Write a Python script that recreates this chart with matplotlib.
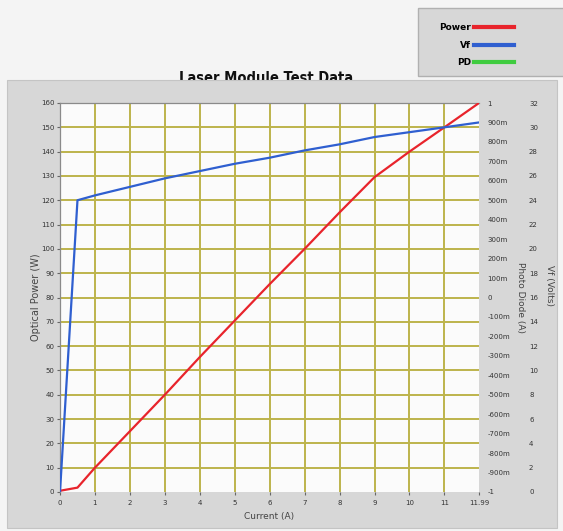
import matplotlib
matplotlib.use("Agg")
import matplotlib.pyplot as plt
from matplotlib.patches import Rectangle
from matplotlib.ticker import FuncFormatter

# values
current_a = [0, 0.5, 1, 2, 3, 4, 5, 6, 7, 8, 9, 10, 11, 11.99]
power_w = [0.5, 1.8, 10, 25, 40, 55.5, 70.5, 85.5, 100, 115, 129.5, 140, 150, 160]
vf_volts = [0, 24.0, 24.4, 25.1, 25.8, 26.4, 27.0, 27.5, 28.1, 28.6, 29.2, 29.6, 30.0, 30.4]
pd_current = []  # PD trace not visible in the reference

x_ticks = list(range(0, 12)) + [11.99]
x_labels = [str(t) for t in range(0, 12)] + ["11.99"]
power_ticks = list(range(0, 161, 10))
vf_ticks = list(range(0, 33, 2))
pd_ticks = [i / 10 for i in range(-10, 11)]

RED = "#e8242c"
BLUE = "#2f5fd0"
GREEN = "#40cc40"
GRID = "#bdb44c"
TXT = "#333333"

fig = plt.figure(figsize=(5.63, 5.31), dpi=100)
fig.patch.set_facecolor("#f4f4f4")

# gray panel behind the graph
panel = Rectangle((7 / 563, 3 / 531), 550 / 563, 448 / 531, transform=fig.transFigure,
                  facecolor="#d7d7d7", edgecolor="#c4c4c4", lw=0.8, zorder=-1)
fig.patches.append(panel)

fig.text(266 / 563, (531 - 83) / 531, "Laser Module Test Data", ha="center", va="baseline",
         fontsize=10.5, fontweight="bold", stretch="condensed", color="#111111",
         family="DejaVu Sans", zorder=-2)

# legend box, cut by the right edge like the reference
leg_box = Rectangle((418 / 563, (531 - 76) / 531), 150 / 563, 68 / 531,
                    transform=fig.transFigure, facecolor="#d7d7d7",
                    edgecolor="#b0b0b0", lw=1.0, zorder=-1)
fig.patches.append(leg_box)

ax = fig.add_axes([60 / 563, 39 / 531, 419 / 563, 389 / 531])
ax.set_facecolor("#fbfbfb")
ax_pd = ax.twinx()
ax_vf = ax.twinx()

ax.plot(current_a, power_w, color=RED, lw=1.6, label="Power", zorder=3)
ax_vf.plot(current_a, vf_volts, color=BLUE, lw=1.6, label="Vf", zorder=3)
ax_pd.plot(pd_current, pd_current, color=GREEN, lw=1.6, label="PD")

ax.set_xlim(0, 11.99)
ax.set_ylim(0, 160)
ax_vf.set_ylim(0, 32)
ax_pd.set_ylim(-1, 1)

ax.set_xticks(x_ticks)
ax.set_xticklabels(x_labels)
ax.set_yticks(power_ticks)
ax_vf.set_yticks(vf_ticks)
ax_pd.set_yticks(pd_ticks)


def milli(v, pos):
    if abs(v) < 1e-9:
        return "0"
    if abs(abs(v) - 1) < 1e-9:
        return "%d" % round(v)
    return "%dm" % round(v * 1000)


ax_pd.yaxis.set_major_formatter(FuncFormatter(milli))

# grid: only interior lines
for xv in range(1, 12):
    ax.axvline(xv, color=GRID, lw=1.4, zorder=1)
for yv in range(10, 160, 10):
    ax.axhline(yv, color=GRID, lw=1.4, zorder=1)

for a in (ax, ax_pd, ax_vf):
    for s in a.spines.values():
        s.set_visible(False)
for side in ("left", "top"):
    ax.spines[side].set_visible(True)
    ax.spines[side].set_color("#8a8a8a")
    ax.spines[side].set_linewidth(0.9)

ax.tick_params(axis="both", labelsize=5, colors="#666666", labelcolor=TXT,
               length=2, width=0.8, pad=2)
ax.tick_params(axis="x", pad=4)
ax_pd.tick_params(axis="y", labelsize=5, labelcolor=TXT, length=0, pad=6)
ax_vf.spines["right"].set_position(("outward", 33))
ax_vf.tick_params(axis="y", labelsize=5, labelcolor=TXT, length=0, pad=3)

ax.set_xlabel("Current (A)", fontsize=6.5, color="#444444", labelpad=4)
ax.set_ylabel("Optical Power (W)", fontsize=7, color="#444444")
ax.yaxis.set_label_coords(-0.045, 0.5)
ax_pd.set_ylabel("Photo Diode (A)", fontsize=6.5, color="#444444", rotation=-90,
                 va="center")
ax_pd.yaxis.set_label_coords(1.098, 0.5)
ax_vf.set_ylabel("Vf (Volts)", fontsize=6.5, color="#444444", rotation=-90,
                 va="center")
ax_vf.yaxis.set_label_coords(1.168, 0.53)

handles = ax.get_lines()[:1] + ax_vf.get_lines() + ax_pd.get_lines()
leg = fig.legend(handles, [h.get_label() for h in handles], loc="upper left",
                 bbox_to_anchor=(433 / 563, 1 - 17 / 531), markerfirst=False,
                 handlelength=4.4, handletextpad=0.3, labelspacing=0.95,
                 borderpad=0.2, frameon=False, alignment="right",
                 prop={"size": 6.5, "weight": "bold"})
for line in leg.get_lines():
    line.set_linewidth(3)

fig.savefig("out.png", dpi=100, facecolor=fig.get_facecolor())
